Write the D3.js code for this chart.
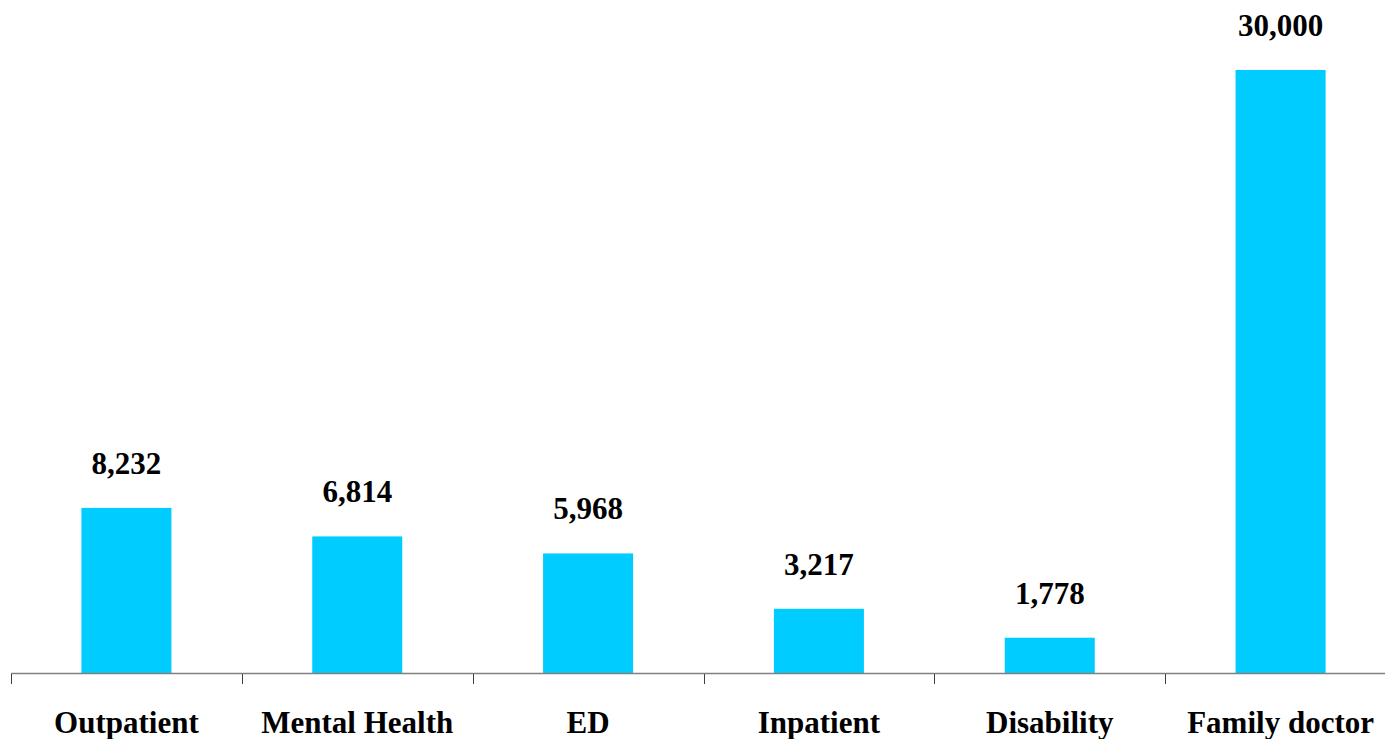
<!DOCTYPE html>
<html>
<head>
<meta charset="utf-8">
<script src="https://cdn.jsdelivr.net/npm/d3@7"></script>
<style>
  body { margin: 0; background: #fff; }
</style>
</head>
<body>
<div id="chart"></div>
<script>
// Chart size
const width = 1385;
const height = 739;
const margin = {left: 11, right: -11, top: 70, bottom: 65};

// Data
const categories = ["Outpatient", "Mental Health", "ED", "Inpatient", "Disability", "Family doctor"];
const values = [8232, 6814, 5968, 3217, 1778, 30000];

const data = categories.map((c, i) => ({name: c, value: values[i]}));

const svg = d3.select("#chart")
  .append("svg")
  .attr("width", width)
  .attr("height", height);

// x scale for the axis ticks (band edges)
const xAxisScale = d3.scaleBand()
  .domain(categories)
  .range([margin.left, width - margin.right])
  .padding(0);

// x scale for the bars, same step, narrow bars centred in each band
const xScale = d3.scaleBand()
  .domain(categories)
  .range([margin.left, width - margin.right])
  .paddingInner(0.61)
  .paddingOuter(0.305);

const yScale = d3.scaleLinear()
  .domain([0, 30000])
  .range([height - margin.bottom - 0.5, margin.top]);

const baseY = height - margin.bottom;

// bars
svg.selectAll(".bar")
  .data(data)
  .enter()
  .append("rect")
    .attr("class", "bar")
    .attr("x", d => xScale(d.name))
    .attr("y", d => yScale(d.value))
    .attr("width", xScale.bandwidth())
    .attr("height", d => yScale(0) - yScale(d.value))
    .attr("fill", "#00CCFF");

// value labels above bars
svg.selectAll(".val")
  .data(data)
  .enter()
  .append("text")
    .attr("class", "val")
    .attr("x", d => xScale(d.name) + xScale.bandwidth() / 2)
    .attr("y", d => yScale(d.value) - 34)
    .attr("text-anchor", "middle")
    .attr("font-family", "'Liberation Serif', serif")
    .attr("font-weight", "bold")
    .attr("font-size", "31px")
    .attr("fill", "#000")
    .text(d => d3.format(",")(d.value));

// x axis: ticks at band boundaries
const tickPositions = categories.map(c => xAxisScale(c)).concat([xAxisScale.range()[1]]);
const axis = svg.append("g").attr("class", "x-axis");

axis.append("line")
  .attr("x1", xAxisScale.range()[0])
  .attr("x2", xAxisScale.range()[1])
  .attr("y1", baseY - 0.5)
  .attr("y2", baseY - 0.5)
  .attr("stroke", "#808080")
  .attr("stroke-width", 1.5);

axis.selectAll(".tick")
  .data(tickPositions)
  .enter()
  .append("line")
    .attr("class", "tick")
    .attr("x1", d => Math.round(d) + 0.5)
    .attr("x2", d => Math.round(d) + 0.5)
    .attr("y1", baseY)
    .attr("y2", baseY + 10)
    .attr("stroke", "#404040")
    .attr("stroke-width", 1);

// category labels
axis.selectAll(".lab")
  .data(categories)
  .enter()
  .append("text")
    .attr("class", "lab")
    .attr("x", d => xAxisScale(d) + xAxisScale.bandwidth() / 2)
    .attr("y", 733)
    .attr("text-anchor", "middle")
    .attr("font-family", "'Liberation Serif', serif")
    .attr("font-weight", "bold")
    .attr("font-size", "31px")
    .attr("fill", "#000")
    .text(d => d);
</script>
</body>
</html>
